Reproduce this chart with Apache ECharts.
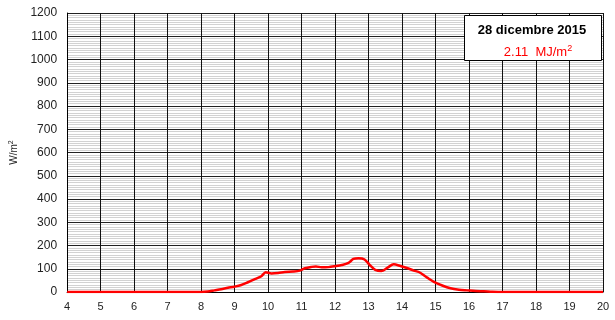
<!DOCTYPE html>
<html><head><meta charset="utf-8">
<script src="https://cdn.jsdelivr.net/npm/echarts@6/dist/echarts.min.js"></script>
<style>html,body{margin:0;padding:0;background:#fff}#c{width:615px;height:320px}</style>
</head><body><div id="c"></div>
<script>
var hours = [4, 8.0, 8.2, 8.4, 8.6, 8.8, 9.0, 9.2, 9.4, 9.6, 9.8, 9.93, 10.1, 10.3, 10.5, 10.75, 10.95, 11.1, 11.3, 11.43, 11.6, 11.8, 12.0, 12.2, 12.4, 12.55, 12.7, 12.88, 13.05, 13.2, 13.38, 13.57, 13.75, 13.95, 14.15, 14.35, 14.5, 14.75, 14.95, 15.2, 15.45, 15.7, 15.94, 16.2, 16.44, 16.7, 17, 20];
var radiation = [0, 0, 2, 7, 12, 18, 23, 30, 42, 55, 68, 85, 80, 82, 86, 88, 92, 102, 108, 110, 106, 107, 111, 116, 125, 142, 145, 140, 114, 95, 90, 105, 119, 112, 103, 92, 86, 62, 44, 28, 16, 10, 7, 4, 3, 1, 0, 0];
var xTicks = [4, 5, 6, 7, 8, 9, 10, 11, 12, 13, 14, 15, 16, 17, 18, 19, 20];
var yTicks = [0, 100, 200, 300, 400, 500, 600, 700, 800, 900, 1000, 1100, 1200];
var titleText = '28 dicembre 2015';
var energyText = '2.11  MJ/m';

var chart = echarts.init(document.getElementById('c'), null, {renderer: 'canvas'});
var data = hours.map(function (h, i) { return [h, radiation[i]]; });
chart.setOption({
  animation: false,
  grid: {left: 65, right: 12, top: 13, bottom: 28, containLabel: false},
  xAxis: {
    type: 'value', min: xTicks[0], max: xTicks[xTicks.length - 1], interval: 1,
    axisLine: {show: true, lineStyle: {color: '#000', width: 1}},
    axisTick: {show: false},
    axisLabel: {color: '#222', fontFamily: 'Liberation Sans', fontSize: 11, margin: 9,
      formatter: function (v) { return String(v); }},
    splitLine: {show: true, lineStyle: {color: '#111', width: 1}}
  },
  yAxis: {
    type: 'value', min: yTicks[0], max: yTicks[yTicks.length - 1], interval: 100,
    name: '{a|W/m}{s|2}', nameLocation: 'middle', nameGap: 40, nameRotate: 90,
    nameTextStyle: {rich: {a: {fontFamily: 'Liberation Sans', fontSize: 10, color: '#222'}, s: {fontFamily: 'Liberation Sans', fontSize: 7, color: '#222', verticalAlign: 'top', padding: [0,0,6,0]}}},
    axisLine: {show: true, lineStyle: {color: '#000', width: 1}},
    axisTick: {show: false},
    axisLabel: {color: '#222', fontFamily: 'Liberation Sans', fontSize: 12, margin: 10,
      formatter: function (v) { return String(v); }},
    splitLine: {show: true, lineStyle: {color: '#222', width: 1}},
    minorTick: {show: false, splitNumber: 10},
    minorSplitLine: {show: true, lineStyle: {color: '#d2d2d2', width: 1}}
  },
  series: [{
    type: 'line', data: data, showSymbol: false, smooth: 0.3,
    lineStyle: {color: '#ff0000', width: 2.5}, z: 5
  }],
  graphic: [{
    type: 'rect', left: 464, top: 15, z: 10,
    shape: {width: 137, height: 45},
    style: {fill: '#fff', stroke: '#000', lineWidth: 1}
  }, {
    type: 'text', x: 532, y: 30, z: 11,
    style: {text: titleText, fill: '#000', font: 'bold 13px "Liberation Sans"', align: 'center', verticalAlign: 'middle'}
  }, {
    type: 'text', x: 538, y: 52, z: 11,
    style: {text: '{a|' + energyText + '}{s|2}', align: 'center', verticalAlign: 'middle',
      rich: {a: {fill: '#ff0000', font: '13px "Liberation Sans"'}, s: {fill: '#ff0000', font: '9px "Liberation Sans"', verticalAlign: 'top', padding: [0,0,7,0]}}}
  }]
});
</script></body></html>
